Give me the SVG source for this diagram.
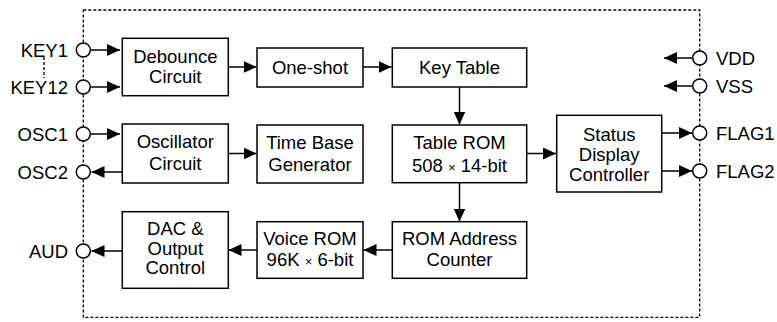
<svg xmlns="http://www.w3.org/2000/svg" width="777" height="322" viewBox="0 0 777 322">
<defs>
<style>
.box{fill:#fff;stroke:#000;stroke-width:1.5}
.pin{fill:#fff;stroke:#000;stroke-width:1.5}
.wire{fill:none;stroke:#000;stroke-width:1.5}
.dash{fill:none;stroke:#000;stroke-width:1.3;stroke-dasharray:3,2}
text{font-family:"Liberation Sans",Arial,sans-serif;font-size:18.5px;fill:#000}
.c{text-anchor:middle}
.r{text-anchor:end}
.x{font-size:13px}
</style>
<marker id="ah" markerUnits="userSpaceOnUse" markerWidth="13" markerHeight="12" viewBox="0 0 13 12" refX="13" refY="6" orient="auto">
<path d="M0,0 L13,6 L0,12 z" fill="#000"/>
</marker>
</defs>
<rect width="777" height="322" fill="#fff"/>
<g id="boundary">
<rect class="dash" x="83.3" y="10" width="616.4" height="307.3"/>
<line class="dash" x1="44" y1="57" x2="44" y2="78"/>
</g>
<g id="connectors">
<line class="wire" x1="90" y1="50" x2="120" y2="50" marker-end="url(#ah)"/>
<line class="wire" x1="90" y1="87" x2="120" y2="87" marker-end="url(#ah)"/>
<line class="wire" x1="90" y1="134" x2="120" y2="134" marker-end="url(#ah)"/>
<line class="wire" x1="122" y1="172" x2="91.5" y2="172" marker-end="url(#ah)"/>
<line class="wire" x1="122" y1="251" x2="91.5" y2="251" marker-end="url(#ah)"/>
<line class="wire" x1="228" y1="67" x2="256.5" y2="67" marker-end="url(#ah)"/>
<line class="wire" x1="363" y1="67" x2="391.5" y2="67" marker-end="url(#ah)"/>
<line class="wire" x1="228" y1="153.5" x2="256.5" y2="153.5" marker-end="url(#ah)"/>
<line class="wire" x1="459.5" y1="87" x2="459.5" y2="124.5" marker-end="url(#ah)"/>
<line class="wire" x1="459.5" y1="183" x2="459.5" y2="221.5" marker-end="url(#ah)"/>
<line class="wire" x1="527" y1="153.5" x2="556" y2="153.5" marker-end="url(#ah)"/>
<line class="wire" x1="392" y1="250" x2="363.5" y2="250" marker-end="url(#ah)"/>
<line class="wire" x1="257" y1="250" x2="228.5" y2="250" marker-end="url(#ah)"/>
<line class="wire" x1="662" y1="133" x2="692" y2="133" marker-end="url(#ah)"/>
<line class="wire" x1="662" y1="171" x2="692" y2="171" marker-end="url(#ah)"/>
<line class="wire" x1="692.5" y1="58" x2="664" y2="58" marker-end="url(#ah)"/>
<line class="wire" x1="692.5" y1="86" x2="664" y2="86" marker-end="url(#ah)"/>
</g>
<g id="pin-KEY1"><circle class="pin" cx="83.3" cy="50" r="7"/><text class="r" x="68" y="56.7">KEY1</text></g>
<g id="pin-KEY12"><circle class="pin" cx="83.3" cy="87" r="7"/><text class="r" x="68" y="93.7">KEY12</text></g>
<g id="pin-OSC1"><circle class="pin" cx="83.3" cy="134" r="7"/><text class="r" x="68" y="140.7">OSC1</text></g>
<g id="pin-OSC2"><circle class="pin" cx="83.3" cy="172" r="7"/><text class="r" x="68" y="178.7">OSC2</text></g>
<g id="pin-AUD"><circle class="pin" cx="83.3" cy="251" r="7"/><text class="r" x="68" y="257.7">AUD</text></g>
<g id="pin-VDD"><circle class="pin" cx="699.7" cy="58" r="7"/><text x="716" y="64.7">VDD</text></g>
<g id="pin-VSS"><circle class="pin" cx="699.7" cy="86" r="7"/><text x="716" y="92.7">VSS</text></g>
<g id="pin-FLAG1"><circle class="pin" cx="699.7" cy="133" r="7"/><text x="716" y="139.7">FLAG1</text></g>
<g id="pin-FLAG2"><circle class="pin" cx="699.7" cy="171" r="7"/><text x="716" y="177.7">FLAG2</text></g>
<g id="debounce"><rect class="box" x="122.3" y="38.3" width="106" height="57.4"/><text class="c" x="175.3" y="62.7">Debounce</text><text class="c" x="175.3" y="83.3">Circuit</text></g>
<g id="oneshot"><rect class="box" x="257" y="48" width="106" height="39"/><text class="c" x="310" y="74">One-shot</text></g>
<g id="keytable"><rect class="box" x="392.3" y="48" width="134.4" height="39"/><text class="c" x="459.5" y="74">Key Table</text></g>
<g id="oscillator"><rect class="box" x="122.3" y="124" width="106" height="59"/><text class="c" x="175.3" y="148">Oscillator</text><text class="c" x="175.3" y="169.5">Circuit</text></g>
<g id="timebase"><rect class="box" x="257" y="125" width="106" height="58"/><text class="c" x="310" y="149.3">Time Base</text><text class="c" x="310" y="170.7">Generator</text></g>
<g id="tablerom"><rect class="box" x="392.3" y="125" width="134.4" height="57.7"/><text class="c" x="459.5" y="149.3">Table ROM</text><text class="c" x="459.5" y="171.5">508 <tspan class="x">×</tspan> 14-bit</text></g>
<g id="status"><rect class="box" x="556.7" y="115.3" width="105" height="76.7"/><text class="c" x="609.2" y="141.3">Status</text><text class="c" x="609.2" y="161.3">Display</text><text class="c" x="609.2" y="180.7">Controller</text></g>
<g id="dac"><rect class="box" x="122.3" y="211.7" width="106" height="76.6"/><text class="c" x="175.3" y="235">DAC &amp;</text><text class="c" x="175.3" y="254.5">Output</text><text class="c" x="175.3" y="274.3">Control</text></g>
<g id="voicerom"><rect class="box" x="257" y="221.7" width="106" height="56.6"/><text class="c" x="310" y="245">Voice ROM</text><text class="c" x="310" y="266">96K <tspan class="x">×</tspan> 6-bit</text></g>
<g id="romaddr"><rect class="box" x="392.3" y="221.7" width="134.4" height="56.6"/><text class="c" x="459.5" y="245">ROM Address</text><text class="c" x="459.5" y="266">Counter</text></g>
</svg>
